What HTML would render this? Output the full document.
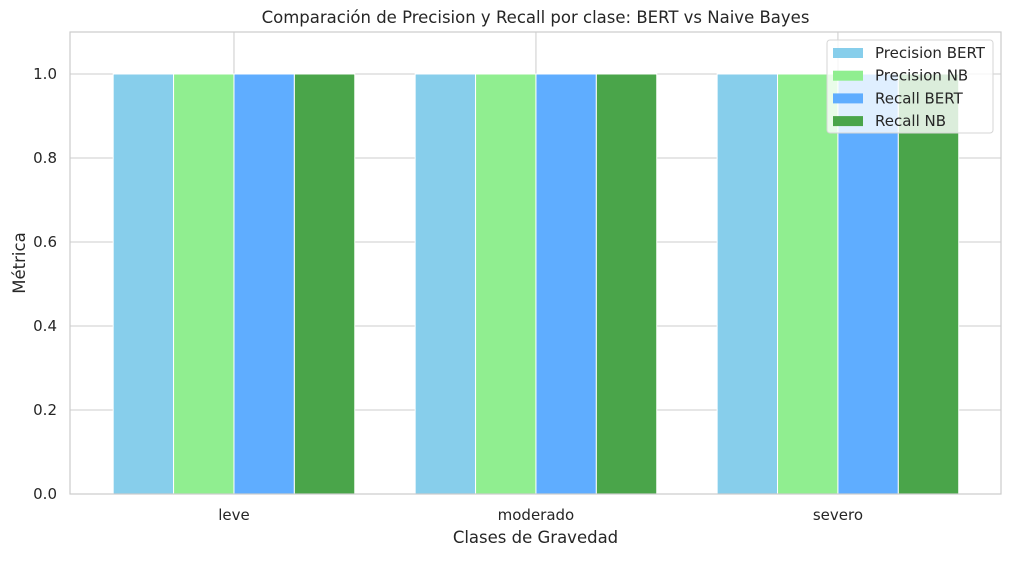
<!DOCTYPE html>
<html><head><meta charset="utf-8"><style>
body{margin:0;background:#fff;}
text{font-family:"DejaVu Sans","Liberation Sans",sans-serif;fill:#262626;}
</style></head><body>
<svg id="c" width="1011" height="556" xmlns="http://www.w3.org/2000/svg"></svg>
<script>
const categories=["leve","moderado","severo"];
const seriesNames=["Precision BERT","Precision NB","Recall BERT","Recall NB"];
const precisionBert=[1.0,1.0,1.0];
const precisionNb=[1.0,1.0,1.0];
const recallBert=[1.0,1.0,1.0];
const recallNb=[1.0,1.0,1.0];
const yTicks=[0.0,0.2,0.4,0.6,0.8,1.0];
const yTickLabels=["0.0","0.2","0.4","0.6","0.8","1.0"];

const series=[precisionBert,precisionNb,recallBert,recallNb];
const colors=["#87CEEB","#90EE90","#5fadff","#4aa54a"];
const L=70,R=1001,T=32,B=494;
const xmin=-0.543,xmax=2.54,ymax=1.1;
const xs=v=>L+(v-xmin)/(xmax-xmin)*(R-L);
const ys=v=>B-v/ymax*(B-T);
const svg=document.getElementById('c');
const NS="http://www.w3.org/2000/svg";
function mk(tag,attrs,parent){const e=document.createElementNS(NS,tag);for(const k in attrs)e.setAttribute(k,attrs[k]);(parent||svg).appendChild(e);return e;}

yTicks.forEach((t,i)=>{
  const g=mk('line',{x1:L,x2:R,y1:ys(t),y2:ys(t),stroke:'#cccccc','stroke-width':1});
  
  
  const tx=mk('text',{x:L-13,y:ys(t)+5,'text-anchor':'end','font-size':15});
  tx.textContent=yTickLabels[i];
  
  
});
categories.forEach((c,i)=>{
  const g=mk('line',{x1:xs(i),x2:xs(i),y1:T,y2:B,stroke:'#cccccc','stroke-width':1});
  
  
  const tx=mk('text',{x:xs(i),y:B+26,'text-anchor':'middle','font-size':15});
  tx.textContent=c;
  
  
});
const w=0.2;
series.forEach((s,si)=>{
  s.forEach((v,i)=>{
    const x0=xs(i+(si-2)*w),x1=xs(i+(si-1)*w);
    const r=mk('rect',{x:x0,y:ys(v),width:x1-x0,height:ys(0)-ys(v),fill:colors[si],stroke:'#fff','stroke-width':1});
    
    
  });
});
const f=mk('rect',{x:L,y:T,width:R-L,height:B-T,fill:'none',stroke:'#cccccc','stroke-width':1.2});


const tt=mk('text',{x:(L+R)/2,y:23,'text-anchor':'middle','font-size':16.5});
tt.textContent="Comparación de Precision y Recall por clase: BERT vs Naive Bayes";


const xt=mk('text',{x:(L+R)/2,y:543,'text-anchor':'middle','font-size':16.5});
xt.textContent="Clases de Gravedad";


const yt=mk('text',{x:25,y:(T+B)/2,'text-anchor':'middle','font-size':16.5,transform:'rotate(-90 25 '+((T+B)/2)+')'});
yt.textContent="Métrica";


const lg=mk('g',{});


mk('rect',{x:827,y:40,width:166,height:93,rx:3,fill:'#fff','fill-opacity':0.8,stroke:'#d6d6d6'},lg);
seriesNames.forEach((n,i)=>{
  const y=53+i*22.7;
  const e=mk('g',{},lg);
  
  
  mk('rect',{x:833,y:y-5,width:30,height:10,fill:colors[i]},e);
  const t=mk('text',{x:875,y:y+5,'font-size':15},e);
  t.textContent=n;
});
</script>
</body></html>
